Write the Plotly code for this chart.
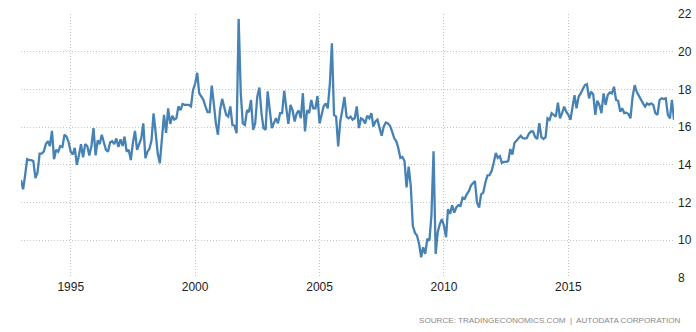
import pandas as pd
import plotly.graph_objects as go

# Monthly values (millions, SAAR), Jan 1993 - Apr 2019
y1993 = [13.2, 12.7, 13.4, 14.3, 14.25, 14.25, 14.2, 13.3, 13.6, 14.6, 14.6, 14.7]
y1994 = [15.1, 15.25, 15.0, 15.8, 14.3, 14.8, 14.7, 15.0, 14.95, 15.6, 15.5, 15.2]
y1995 = [14.7, 14.55, 14.9, 14.0, 14.5, 15.1, 14.4, 15.1, 15.0, 14.5, 15.0, 15.95]
y1996 = [14.5, 15.3, 15.1, 15.6, 15.2, 14.8, 14.7, 15.2, 15.25, 15.1, 15.4, 14.95]
y1997 = [15.35, 15.0, 15.5, 14.7, 14.8, 14.25, 15.15, 15.8, 14.8, 15.15, 15.4, 16.2]
y1998 = [14.35, 14.7, 14.85, 15.3, 16.73, 15.7, 14.6, 14.08, 15.3, 16.65, 15.7, 17.0]
y1999 = [16.17, 16.6, 16.4, 16.47, 17.1, 16.9, 17.23, 17.18, 17.18, 17.18, 17.1, 17.96]
y2000 = [18.3, 18.88, 17.8, 17.6, 17.45, 17.1, 16.8, 16.8, 18.2, 17.26, 16.2, 15.6]
y2001 = [16.9, 17.5, 17.1, 16.65, 16.56, 17.1, 16.12, 16.07, 15.68, 21.74, 17.8, 16.2]
y2002 = [16.12, 16.9, 16.8, 17.44, 15.86, 16.2, 17.6, 18.1, 16.74, 15.95, 15.86, 17.9]
y2003 = [16.9, 15.95, 16.2, 16.47, 16.2, 16.74, 16.74, 17.93, 17.0, 16.17, 17.18, 16.9]
y2004 = [16.3, 16.74, 16.88, 16.47, 17.8, 15.77, 16.9, 16.74, 17.44, 17.0, 17.0, 17.65]
y2005 = [16.2, 16.65, 17.1, 17.26, 17.0, 18.3, 20.45, 16.65, 16.56, 14.98, 16.3, 16.9]
y2006 = [17.6, 16.56, 16.47, 16.56, 16.4, 16.47, 17.1, 15.95, 16.47, 16.4, 16.2, 16.6]
y2007 = [16.47, 16.74, 16.03, 16.3, 16.4, 15.95, 15.54, 16.03, 16.25, 16.2, 16.07, 15.77]
y2008 = [15.42, 15.25, 14.9, 14.37, 14.42, 14.2, 12.8, 13.9, 12.88, 10.77, 10.39, 10.25]
y2009 = [9.8, 9.1, 9.63, 9.28, 10.07, 9.98, 11.3, 14.72, 9.28, 10.42, 10.86, 11.12]
y2010 = [10.77, 10.16, 11.65, 11.4, 11.86, 11.47, 11.74, 11.86, 11.82, 12.26, 12.2, 12.44]
y2011 = [12.6, 12.9, 13.0, 13.14, 12.0, 11.74, 12.44, 12.53, 13.05, 13.44, 13.45, 13.67]
y2012 = [14.1, 14.63, 14.37, 14.46, 14.1, 14.16, 14.16, 14.2, 14.84, 14.54, 15.16, 15.28]
y2013 = [15.39, 15.54, 15.42, 15.39, 15.42, 15.65, 15.77, 15.77, 15.47, 15.37, 16.21, 15.47]
y2014 = [15.37, 15.47, 16.47, 16.39, 16.74, 16.65, 16.56, 17.3, 16.47, 16.74, 17.09, 16.82]
y2015 = [16.65, 16.39, 17.09, 17.7, 17.0, 17.61, 17.79, 18.05, 18.23, 18.28, 17.53, 17.88]
y2016 = [17.75, 16.65, 17.4, 17.18, 16.74, 17.79, 17.18, 17.7, 17.84, 17.79, 18.14, 17.44]
y2017 = [17.4, 16.82, 17.0, 16.74, 16.77, 16.7, 16.47, 17.61, 18.23, 17.88, 17.65, 17.44]
y2018 = [17.26, 17.09, 17.26, 17.18, 17.26, 17.18, 16.74, 16.65, 17.44, 17.53, 17.49, 17.53]
y2019 = [16.65, 16.47, 17.44, 16.39]

values = (y1993 + y1994 + y1995 + y1996 + y1997 + y1998 + y1999 + y2000 + y2001
          + y2002 + y2003 + y2004 + y2005 + y2006 + y2007 + y2008 + y2009 + y2010
          + y2011 + y2012 + y2013 + y2014 + y2015 + y2016 + y2017 + y2018 + y2019)
dates = pd.date_range("1993-01-01", periods=len(values), freq="MS")

y_ticks = [8, 10, 12, 14, 16, 18, 20, 22]
x_tick_years = ["1995", "2000", "2005", "2010", "2015"]
source_text = "SOURCE: TRADINGECONOMICS.COM  |  AUTODATA CORPORATION"

fig = go.Figure()
fig.add_trace(go.Scatter(
    x=dates, y=values, mode="lines",
    line=dict(color="#4682b4", width=2.3),
    hoverinfo="skip",
))

fig.update_layout(
    width=696, height=332,
    margin=dict(l=21, r=22, t=14, b=54),
    paper_bgcolor="white", plot_bgcolor="white",
    showlegend=False, hovermode=False,
    font=dict(family="Liberation Sans, Arial, sans-serif", size=12, color="#222"),
)
fig.update_xaxes(
    range=[dates[0], dates[-1]],
    tickmode="array",
    tickvals=[pd.Timestamp(y + "-01-01") for y in x_tick_years],
    ticktext=x_tick_years,
    showgrid=True, gridcolor="#c4c4c4", griddash="1px,2px", gridwidth=1,
    showline=False, zeroline=False, ticks="",
    automargin=False,
)
fig.update_yaxes(
    range=[8, 22], side="right",
    tickmode="array", tickvals=y_ticks, ticktext=[str(v) for v in y_ticks],
    showgrid=True, gridcolor="#c4c4c4", griddash="1px,2px", gridwidth=1,
    showline=False, zeroline=False, ticks="",
    ticklabelstandoff=3,
    automargin=False,
)
fig.add_annotation(
    text=source_text, xref="paper", yref="paper",
    x=1 + (682 - 674) / 653, y=-(320 - 278) / 264,
    xanchor="right", yanchor="middle", showarrow=False,
    font=dict(family="Liberation Sans, Arial, sans-serif", size=8.1, color="#888888"),
)

fig.write_html(
    "out.html",
    config={"displayModeBar": False, "staticPlot": True},
    post_script="document.body.style.margin='0';document.body.style.overflow='hidden';",
)
